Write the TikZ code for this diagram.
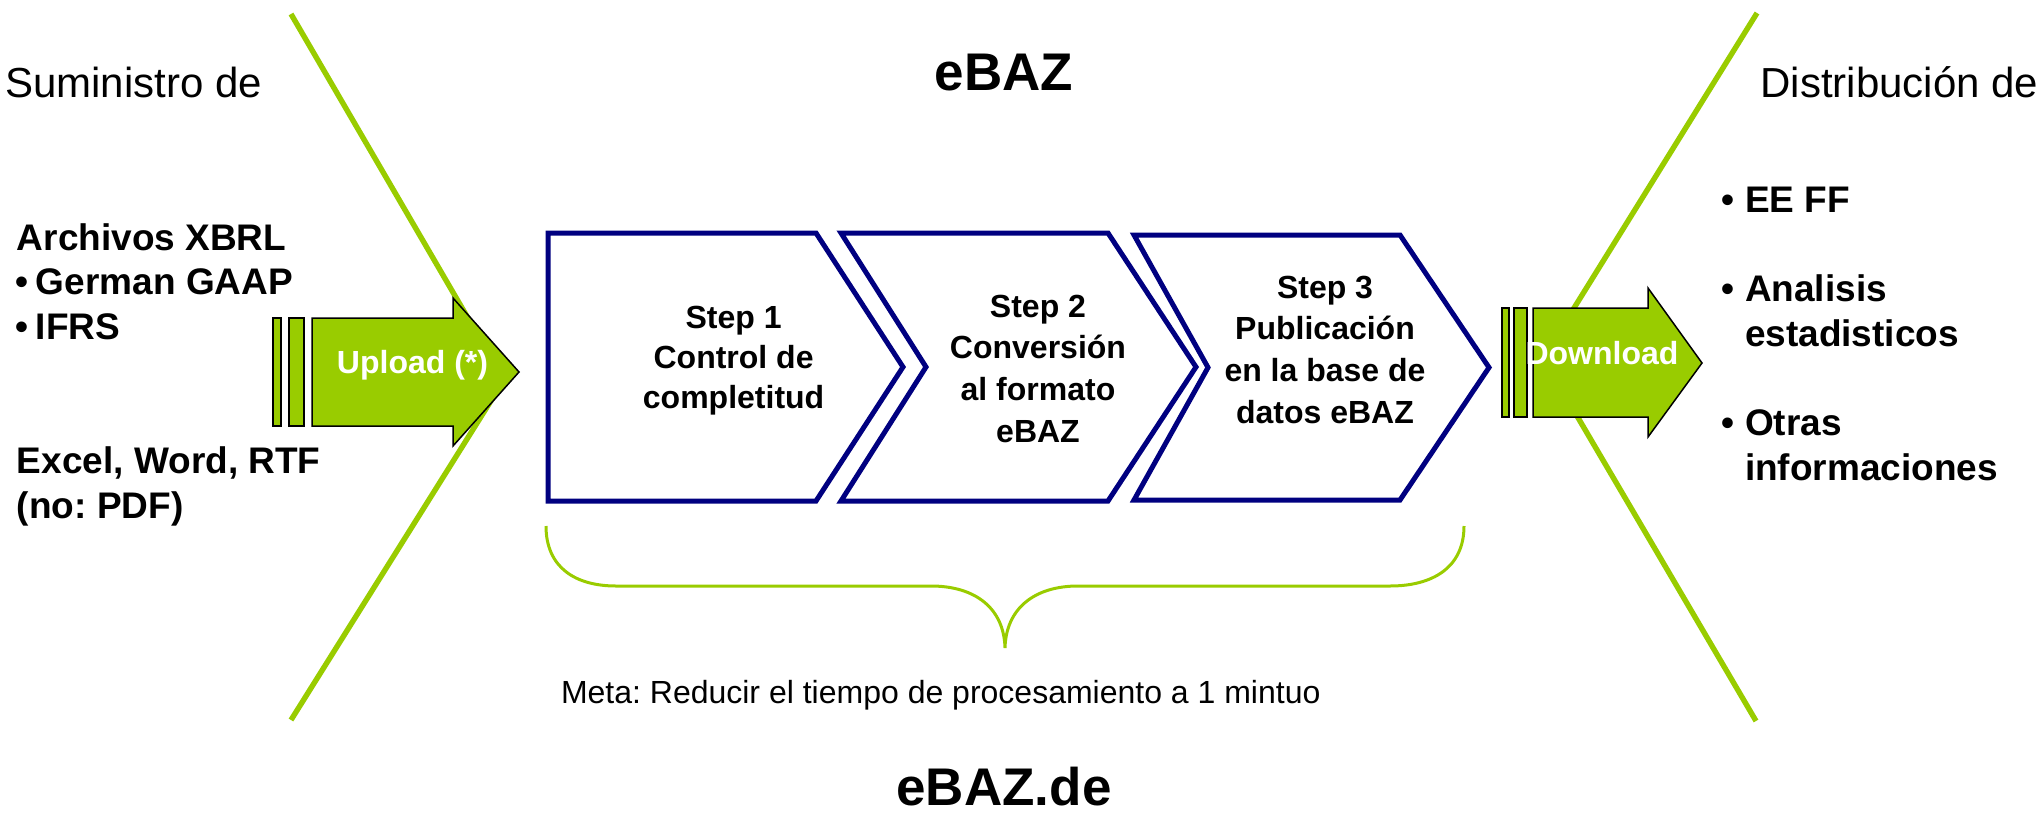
\documentclass[tikz,border=0pt]{standalone}
\usepackage{fontspec}
\setmainfont{Liberation Sans}
\frenchspacing
\definecolor{ebgreen}{RGB}{153,204,0}
\definecolor{ebnavy}{RGB}{0,0,128}
\begin{document}
\begin{tikzpicture}[x=0.5pt,y=-0.5pt,
  greenline/.style={draw=ebgreen, line width=2.7pt},
  bracestyle/.style={draw=ebgreen, line width=1.5pt},
  stepbox/.style={draw=ebnavy, line width=2.5pt, line join=miter},
  arrowbody/.style={fill=ebgreen, draw=black, line width=0.75pt},
  lbl/.style={inner sep=0pt, outer sep=0pt},
  bigtxt/.style={lbl, font=\fontsize{21}{25}\selectfont},
  listtxt/.style={lbl, font=\fontsize{18.5}{22.35}\selectfont\bfseries},
  steptxt/.style={lbl, font=\fontsize{16}{20.85}\selectfont\bfseries},
  arrowtxt/.style={lbl, text=white, font=\fontsize{16}{19}\selectfont\bfseries},
  titletxt/.style={lbl, font=\fontsize{26.5}{30}\selectfont\bfseries}
]
\useasboundingbox (0,0) rectangle (2044,819);

% green side lines
\draw[greenline] (291,14) -- (504,380) -- (291,720);
\draw[greenline] (1757,13) -- (1543,358) -- (1756,721);

% upload arrow
\draw[arrowbody] (273,318) rectangle (281,426);
\draw[arrowbody] (289,318) rectangle (304,426);
\draw[arrowbody] (312,318) -- (453,318) -- (453,298) -- (519,372) -- (453,446) -- (453,426) -- (312,426) -- cycle;
\node[arrowtxt, anchor=base] (up) at (412.5,373) {Upload (*)};

% download arrow
\draw[arrowbody] (1502,308) rectangle (1509,417);
\draw[arrowbody] (1514,308) rectangle (1527,417);
\draw[arrowbody] (1533,308) -- (1648,308) -- (1648,288) -- (1702,363) -- (1648,437) -- (1648,417) -- (1533,417) -- cycle;
\node[arrowtxt, anchor=base] (down) at (1602,364) {Download};

% step boxes
\draw[stepbox] (548,233) -- (816,233) -- (903,367) -- (816,501) -- (548,501) -- cycle;
\draw[stepbox] (841,233) -- (1108,233) -- (1196,367) -- (1108,501) -- (841,501) -- (926,367) -- cycle;
\draw[stepbox] (1134,235) -- (1400,235) -- (1489,367.5) -- (1400,500) -- (1134,500) -- (1208,367.5) -- cycle;

\node[steptxt, anchor=base, font=\fontsize{16}{20}\selectfont\bfseries] (s1) at (733.6,328)
  {\begin{tabular}[t]{@{}c@{}}Step 1\\Control de\\completitud\end{tabular}};
\node[steptxt, anchor=base] (s2) at (1038,317)
  {\begin{tabular}[t]{@{}c@{}}Step 2\\Conversión\\al formato\\eBAZ\end{tabular}};
\node[steptxt, anchor=base] (s3) at (1325,298)
  {\begin{tabular}[t]{@{}c@{}}Step 3\\Publicación\\en la base de\\datos eBAZ\end{tabular}};

% brace
\draw[bracestyle] (546,526) .. controls (546,568) and (576,586) .. (616,586)
  -- (931,586) .. controls (975,586) and (1004,608) .. (1005,648)
  .. controls (1006,608) and (1035,586) .. (1078,586)
  -- (1390,586) .. controls (1432,586) and (1464,568) .. (1464,526);

% texts
\node[bigtxt, anchor=base west] (sum) at (5,97) {Suministro de};
\node[bigtxt, anchor=base west] (dist) at (1760.6,97) {Distribución de};

\node[listtxt, anchor=base west] (inA) at (15,250)
  {\begin{tabular}[t]{@{}l@{}}\hspace*{1pt}Archivos XBRL\\\makebox[10.5pt][l]{•}German GAAP\\\makebox[10.5pt][l]{•}IFRS\end{tabular}};
\node[listtxt, anchor=base west, font=\fontsize{18.5}{22.5}\selectfont\bfseries] (inB) at (17,473)
  {\begin{tabular}[t]{@{}l@{}}Excel, Word, RTF\\(no: PDF)\end{tabular}};

\node[listtxt, anchor=base west] (outL) at (1721,212)
  {\begin{tabular}[t]{@{}l@{}}\makebox[12pt][l]{•}EE FF\\ \\\makebox[12pt][l]{•}Analisis\\\makebox[12pt][l]{}estadisticos\\ \\\makebox[12pt][l]{•}Otras\\\makebox[12pt][l]{}informaciones\end{tabular}};

\node[titletxt, anchor=base] (t1) at (1004,90) {eBAZ};
\node[titletxt, anchor=base] (t2) at (1004,805) {eBAZ.de};
\node[lbl, anchor=base west, font=\fontsize{16}{19}\selectfont] (meta) at (561,703)
  {Meta: Reducir el tiempo de procesamiento a 1 mintuo};
\end{tikzpicture}
\end{document}
